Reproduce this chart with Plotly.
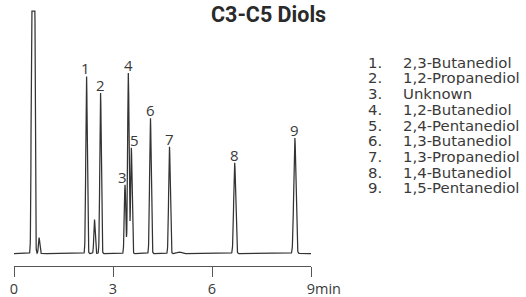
import numpy as np
import plotly.graph_objects as go

# ---- data ----
compound_numbers = ["1", "2", "3", "4", "5", "6", "7", "8", "9"]
compound_names = ["2,3-Butanediol", "1,2-Propanediol", "Unknown", "1,2-Butanediol",
                  "2,4-Pentanediol", "1,3-Butanediol", "1,3-Propanediol",
                  "1,4-Butanediol", "1,5-Pentanediol"]
compound_times = [2.198, 2.623, 3.365, 3.465, 3.556, 4.134, 4.711, 6.687, 8.51]      # min
compound_heights = [178, 161, 69, 181, 106, 136, 107, 91, 116]                         # response
compound_widths = [0.022, 0.022, 0.022, 0.022, 0.022, 0.024, 0.024, 0.029, 0.032]     # sigma, min

other_times = [0.58, 0.76, 2.44, 5.0]        # solvent + small unlabeled peaks
other_heights = [2000, 16, 34, 1.5]
other_widths = [0.027, 0.02, 0.02, 0.06]

detector_max = 243      # saturated solvent peak
tick_values = [0, 3, 6, 9]
tick_labels = ["0", "3", "6", "9"]
x_unit = "min"
title_text = "C3-C5 Diols"

# ---- build chromatogram from peak table ----
t = np.arange(0, 9.0001, 0.004)
sig = np.zeros_like(t)
for rt, h, s in zip(compound_times + other_times,
                    compound_heights + other_heights,
                    compound_widths + other_widths):
    sig += h * np.exp(-(t - rt) ** 2 / (2 * s ** 2))
sig = np.minimum(sig, detector_max)

# ---- layout geometry (pixels) ----
W, H = 526, 297
L, R_px = 14.3, 310.7          # x of 0 and 9 min
T_px, B_px = 9, 266.5          # plot area top / bottom
PW, PH = R_px - L, B_px - T_px

def px(xp):
    return (xp - L) / PW

def py(yp):
    return (B_px - yp) / PH

TXT = "#3a3a3a"

fig = go.Figure()
fig.add_trace(go.Scatter(x=t, y=sig, mode="lines",
                         line=dict(color="#333333", width=1.25),
                         hoverinfo="skip", showlegend=False))

ann = []
label_dx = [-1, 0, -3, 0, 3, 0, 0, 0, 0]
for num, rt, h, dx in zip(compound_numbers, compound_times, compound_heights, label_dx):
    ann.append(dict(x=rt, y=h, xref="x", yref="y", text=num, showarrow=False,
                    xanchor="center", yanchor="middle", xshift=dx, yshift=8,
                    font=dict(family="Open Sans", size=15, color=TXT)))

# legend list
y0, dy = 62.3, 15.75
for i, (num, name) in enumerate(zip(compound_numbers, compound_names)):
    yy = y0 + i * dy
    ann.append(dict(x=px(367), y=py(yy), xref="paper", yref="paper", text=num + ".",
                    showarrow=False, xanchor="left", yanchor="middle",
                    height=15, valign="middle", borderpad=0,
                    font=dict(family="DejaVu Sans", size=14.9, color=TXT)))
    ann.append(dict(x=px(402), y=py(yy), xref="paper", yref="paper", text=name,
                    showarrow=False, xanchor="left", yanchor="middle",
                    height=15, valign="middle", borderpad=0,
                    font=dict(family="DejaVu Sans", size=14.9, color=TXT)))

# title
ann.append(dict(x=px(268.5), y=py(15), xref="paper", yref="paper",
                text="<b>" + title_text + "</b>", showarrow=False,
                xanchor="center", yanchor="middle",
                font=dict(family="Roboto", size=21.5, color="#2a2a2a")))

# unit next to last tick
ann.append(dict(x=px(312.5), y=py(289.5), xref="paper", yref="paper", text=x_unit,
                showarrow=False, xanchor="left", yanchor="middle",
                font=dict(family="Open Sans", size=14.5, color=TXT)))

fig.update_layout(
    width=W, height=H,
    margin=dict(l=L, r=W - R_px, t=T_px, b=H - B_px, pad=0, autoexpand=False),
    paper_bgcolor="white", plot_bgcolor="white",
    annotations=ann,
    xaxis=dict(range=[0, 9], tickvals=tick_values, ticktext=tick_labels,
               showline=True, linecolor="#555", linewidth=1, automargin=False,
               ticks="outside", ticklen=10, tickcolor="#555", tickwidth=1,
               showgrid=False, zeroline=False,
               tickfont=dict(family="Open Sans", size=14.5, color=TXT)),
    yaxis=dict(range=[-12.5, 245], visible=False, showgrid=False, zeroline=False,
               automargin=False),
)

fig.write_html("out.html", config={"displayModeBar": False},
               post_script="document.body.style.margin='0px';document.body.style.overflow='hidden';")
